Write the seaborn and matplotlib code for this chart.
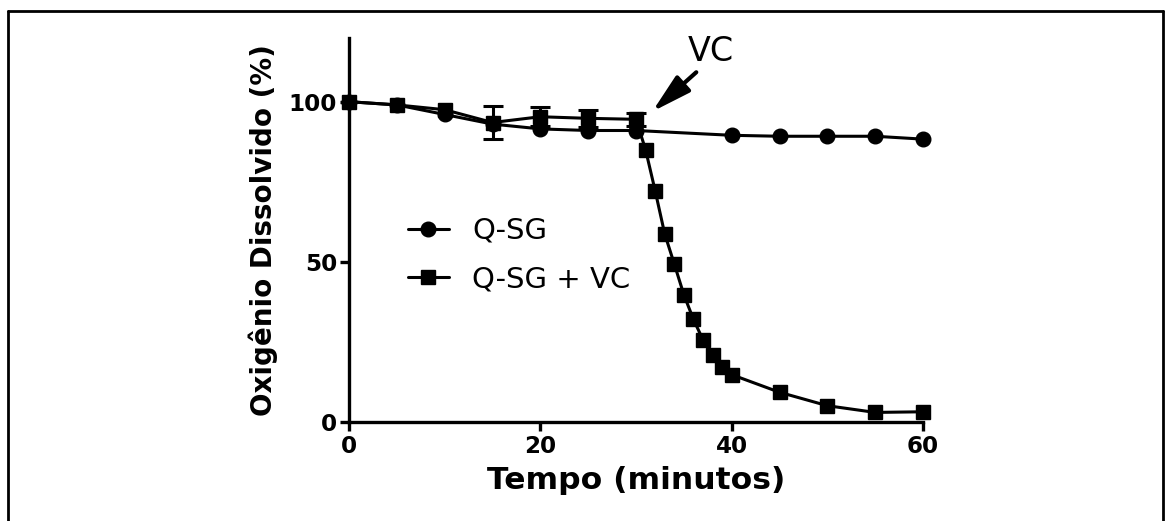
import matplotlib
matplotlib.use("Agg")
import matplotlib.pyplot as plt
from matplotlib.lines import Line2D
import numpy as np
import pandas as pd
import seaborn as sns

# ---- data ----
t_qsg = [0, 5, 10, 15, 20, 25, 30, 40, 45, 50, 55, 60]
o2_qsg = [100, 99, 96, 93, 91.5, 91, 91, 89.5, 89.2, 89.2, 89.2, 88.3]

t_vc = [0, 5, 10, 15, 20, 25, 30, 31, 32, 33, 34, 35, 36, 37, 38, 39, 40, 45, 50, 55, 60]
o2_vc = [100, 99, 97.5, 93.5, 95.3, 94.8, 94.5, 85, 72.2, 58.7, 49.3, 39.7, 32, 25.6,
         20.8, 17.2, 14.7, 9.2, 5.0, 2.9, 3.1]

t_err = [15, 20, 25, 30]
o2_err = [93.5, 95.3, 94.8, 94.5]
sem_err = [5.2, 3.0, 2.6, 2.0]

series_names = ["Q-SG", "Q-SG + VC"]
xticks = [0, 20, 40, 60]
yticks = [0, 50, 100]
xlabel = "Tempo (minutos)"
ylabel = "Oxigênio Dissolvido (%)"
annot_text = "VC"
annot_tip = (31.7, 96.9)
annot_tail = (36.3, 109.2)
annot_text_pos = (37.8, 115.8)

df = pd.concat([
    pd.DataFrame({"t": t_qsg, "o2": o2_qsg, "serie": series_names[0]}),
    pd.DataFrame({"t": t_vc, "o2": o2_vc, "serie": series_names[1]}),
], ignore_index=True)

sns.set_style("ticks")
plt.rcParams["font.family"] = ["DejaVu Sans"]
plt.rcParams["text.color"] = "black"
plt.rcParams["axes.labelcolor"] = "black"
plt.rcParams["xtick.color"] = "black"
plt.rcParams["ytick.color"] = "black"

W, H = 1172, 521
fig = plt.figure(figsize=(W / 100, H / 100), dpi=100)
x0, x1 = 349, 923
y0, ytop = 421.7, 37.7
ax = fig.add_axes([x0 / W, 1 - y0 / H, (x1 - x0) / W, (y0 - ytop) / H])

sns.lineplot(data=df, x="t", y="o2", style="serie",
             markers={series_names[0]: "o", series_names[1]: "s"},
             dashes=False, color="black", linewidth=2.2, markersize=10.5,
             markeredgecolor="black", markeredgewidth=1,
             ax=ax, legend=True, errorbar=None, clip_on=False)

ax.errorbar(t_err, o2_err, yerr=sem_err, fmt="none", ecolor="black",
            elinewidth=2.2, capsize=7, capthick=2.2, clip_on=False, zorder=3)

for ln in ax.lines:
    ln.set_clip_on(False)

ax.set_xlim(0, 60)
ax.set_ylim(0, 120)
ax.set_xticks(xticks)
ax.set_yticks(yticks)
ax.set_xlabel(xlabel, fontsize=22.6, fontweight="bold", labelpad=6, color="black")
ax.set_ylabel(ylabel, fontsize=20, fontweight="bold", labelpad=8, color="black")
for lab in ax.get_xticklabels() + ax.get_yticklabels():
    lab.set_fontweight("bold")
    lab.set_color("black")
ax.tick_params(axis="both", labelsize=16.6, width=2.4, length=6.5, color="black",
               labelcolor="black")
ax.tick_params(axis="x", pad=3)
ax.tick_params(axis="y", pad=2)

sns.despine(ax=ax)
for s in ["left", "bottom"]:
    ax.spines[s].set_linewidth(2.4)
    ax.spines[s].set_color("black")

# legend
h, l = ax.get_legend_handles_labels()
pairs = [(hh, ll) for hh, ll in zip(h, l) if ll in series_names]
leg = ax.legend([p[0] for p in pairs], [p[1] for p in pairs],
                loc="center left", bbox_to_anchor=((408 - x0) / (x1 - x0), 0.434),
                frameon=False, fontsize=21, handlelength=1.4, handletextpad=0.8,
                labelspacing=0.7, borderpad=0, borderaxespad=0)
for txt in leg.get_texts():
    txt.set_color("black")

# annotation
ax.annotate("", xy=annot_tip, xytext=annot_tail,
            arrowprops=dict(arrowstyle="-|>,head_length=1.2,head_width=0.32",
                            lw=3, color="black", shrinkA=0, shrinkB=0,
                            mutation_scale=20))
ax.text(annot_text_pos[0], annot_text_pos[1], annot_text, fontsize=24,
        ha="center", va="center", color="black")

# outer frame lines
fx0, fy0, fx1 = 7.5 / W, 1 - 11 / H, 1163 / W
fig.add_artist(Line2D([fx0, fx0], [0, fy0], color="black", lw=2))
fig.add_artist(Line2D([fx0, fx1], [fy0, fy0], color="black", lw=2))
fig.add_artist(Line2D([fx1, fx1], [0, fy0], color="black", lw=2))

fig.savefig("out.png", dpi=100)
